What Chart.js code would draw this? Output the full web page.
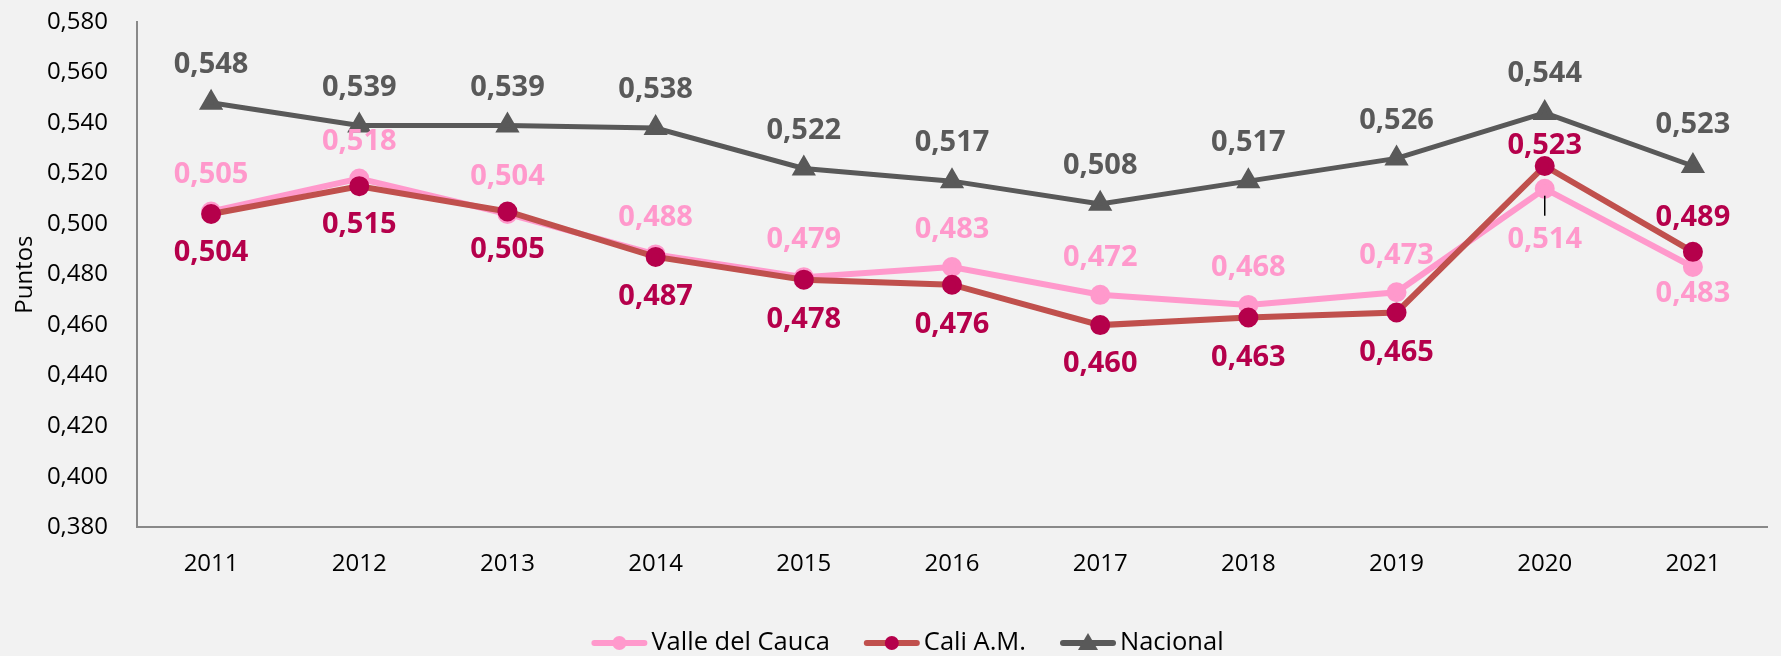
<!DOCTYPE html>
<html lang="es">
<head>
<meta charset="utf-8">
<title>Puntos 2011-2021</title>
<script src="https://cdn.jsdelivr.net/npm/chart.js@4"></script>
<style>
  html, body { margin: 0; padding: 0; background: #F2F2F2; }
  #chart { display: block; }
</style>
</head>
<body>
<canvas id="chart" width="1781" height="656"></canvas>
<script>
// Años y series
const years = ['2011', '2012', '2013', '2014', '2015', '2016', '2017', '2018', '2019', '2020', '2021'];
const valle = [0.505, 0.518, 0.504, 0.488, 0.479, 0.483, 0.472, 0.468, 0.473, 0.514, 0.483];
const cali = [0.504, 0.515, 0.505, 0.487, 0.478, 0.476, 0.460, 0.463, 0.465, 0.523, 0.489];
const nacional = [0.548, 0.539, 0.539, 0.538, 0.522, 0.517, 0.508, 0.517, 0.526, 0.544, 0.523];

// Eje Y
const yMin = 0.38;
const yMax = 0.58;
const yStep = 0.02;

// Desplazamiento vertical de cada etiqueta (px, negativo = arriba)
const valleLabelDy = [-37, -37, -37, -37, -37, -37, -37, -37, -37, 51, 27];
const caliLabelDy = [39, 39, 38, 40, 40, 40, 39, 40, 40, -20, -34];
const nacionalLabelDy = [-38, -38, -38, -38, -38, -38, -38, -38, -38, -39, -41];

const fmt = v => v.toFixed(3).replace('.', ',');
const FONT = '"Open Sans", "Noto Sans", sans-serif';

// Etiquetas de valor encima/debajo de cada punto
const valueLabels = {
  id: 'valueLabels',
  afterDatasetsDraw(chart) {
    const ctx = chart.ctx;
    ctx.save();
    ctx.font = 'bold 29px ' + FONT;
    ctx.textAlign = 'center';
    ctx.textBaseline = 'middle';
    chart.data.datasets.forEach((ds, i) => {
      const meta = chart.getDatasetMeta(i);
      meta.data.forEach((pt, j) => {
        const dy = ds.labelDy[j];
        if (Math.abs(dy) > 45) {
          // línea guía
          ctx.strokeStyle = '#000';
          ctx.lineWidth = 1.5;
          ctx.beginPath();
          ctx.moveTo(pt.x, pt.y + 7);
          ctx.lineTo(pt.x, pt.y + dy - 24);
          ctx.stroke();
        }
        ctx.fillStyle = ds.labelColor;
        ctx.fillText(fmt(ds.data[j]), pt.x, pt.y + dy);
      });
    });
    ctx.restore();
  }
};

// Leyenda con línea y marcador
const lineLegend = {
  id: 'lineLegend',
  afterDraw(chart) {
    const ctx = chart.ctx;
    const lineW = 56, textGap = 4, itemGap = 34;
    ctx.save();
    ctx.font = '25.5px ' + FONT;
    ctx.textBaseline = 'middle';
    const items = chart.data.datasets.map(ds => ({ ds, w: lineW + textGap + ctx.measureText(ds.label).width }));
    const total = items.reduce((s, it) => s + it.w, 0) + itemGap * (items.length - 1);
    let x = chart.width / 2 + 17 - total / 2;
    const y = 643;
    items.forEach(({ ds, w }) => {
      ctx.strokeStyle = ds.borderColor;
      ctx.lineWidth = 6;
      ctx.lineCap = 'round';
      ctx.beginPath();
      ctx.moveTo(x + 3, y);
      ctx.lineTo(x + lineW - 3, y);
      ctx.stroke();
      ctx.fillStyle = ds.pointBackgroundColor;
      const cx = x + lineW / 2;
      ctx.beginPath();
      if (ds.pointStyle === 'triangle') {
        ctx.moveTo(cx, y - 10);
        ctx.lineTo(cx + 10, y + 7);
        ctx.lineTo(cx - 10, y + 7);
        ctx.closePath();
      } else {
        ctx.arc(cx, y, 7, 0, Math.PI * 2);
      }
      ctx.fill();
      ctx.fillStyle = '#000';
      ctx.fillText(ds.label, x + lineW + textGap, y);
      x += w + itemGap;
    });
    ctx.restore();
  }
};

const ctx = document.getElementById('chart').getContext('2d');
new Chart(ctx, {
  type: 'line',
  data: {
    labels: years,
    datasets: [
      {
        label: 'Valle del Cauca',
        data: valle,
        borderColor: '#FF99CC',
        pointBackgroundColor: '#FF99CC',
        pointBorderColor: '#FF99CC',
        labelColor: '#FF99CC',
        labelDy: valleLabelDy,
        borderWidth: 6,
        pointRadius: 7,
        pointStyle: 'circle',
        order: 1
      },
      {
        label: 'Cali A.M.',
        data: cali,
        borderColor: '#C0504D',
        pointBackgroundColor: '#B5004B',
        pointBorderColor: '#B5004B',
        labelColor: '#B5004B',
        labelDy: caliLabelDy,
        borderWidth: 6,
        pointRadius: 7,
        pointStyle: 'circle',
        order: 0
      },
      {
        label: 'Nacional',
        data: nacional,
        borderColor: '#595959',
        pointBackgroundColor: '#595959',
        pointBorderColor: '#595959',
        labelColor: '#595959',
        labelDy: nacionalLabelDy,
        borderWidth: 5,
        pointRadius: 9,
        pointStyle: 'triangle',
        order: 2
      }
    ]
  },
  options: {
    responsive: false,
    animation: false,
    layout: { padding: { top: 22, right: 0, bottom: 54, left: 0 } },
    plugins: {
      legend: { display: false },
      tooltip: { enabled: false }
    },
    scales: {
      x: {
        offset: true,
        grid: { display: false, drawTicks: false },
        border: { display: true, color: '#898989', width: 2 },
        ticks: { color: '#000', padding: 23, font: { family: FONT, size: 24 } }
      },
      y: {
        min: yMin,
        max: yMax,
        afterFit(scale) {
          // ancho fijo y sin relleno extra arriba/abajo
          scale.width = 137;
          scale.paddingTop = 14;
          scale.paddingBottom = 14;
        },
        grid: { display: false, drawTicks: false },
        border: { display: true, color: '#898989', width: 2 },
        ticks: {
          stepSize: yStep,
          color: '#000',
          padding: 29,
          font: { family: FONT, size: 24 },
          callback: v => fmt(v)
        },
        title: {
          display: true,
          text: 'Puntos',
          color: '#000',
          font: { family: FONT, size: 24 },
          padding: { top: 11, bottom: 0 }
        }
      }
    }
  },
  plugins: [valueLabels, lineLegend]
});
</script>
</body>
</html>
